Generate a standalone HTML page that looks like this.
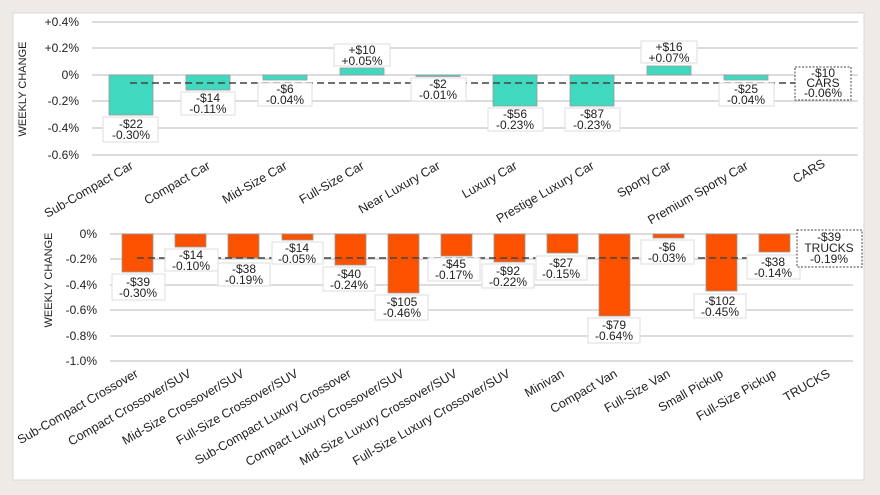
<!DOCTYPE html>
<html><head><meta charset="utf-8"><style>
html,body{margin:0;padding:0;background:#eeebe6;}
svg{display:block;font-family:"Liberation Sans",Arial,sans-serif;}
</style></head><body>
<svg width="880" height="495" viewBox="0 0 880 495" xmlns="http://www.w3.org/2000/svg">
<rect x="0" y="0" width="880" height="495" fill="#eeebe6"/>
<rect x="13" y="13" width="851" height="467" fill="#fff" stroke="#d8d8d8"/>
<!-- TOP CHART -->
<g stroke="#c8c8c8" stroke-width="1.2">
<line x1="92" y1="22" x2="858" y2="22"/><line x1="92" y1="48" x2="858" y2="48"/>
<line x1="92" y1="75" x2="858" y2="75"/><line x1="92" y1="101" x2="858" y2="101"/>
<line x1="92" y1="128" x2="858" y2="128"/><line x1="92" y1="155" x2="858" y2="155"/>
</g>
<g font-size="12" fill="#222" text-anchor="end">
<text x="79" y="26">+0.4%</text><text x="79" y="52">+0.2%</text><text x="79" y="79">0%</text>
<text x="79" y="105">-0.2%</text><text x="79" y="132">-0.4%</text><text x="79" y="159">-0.6%</text>
</g>
<text transform="translate(26,89) rotate(-90)" font-size="11" fill="#222" text-anchor="middle">WEEKLY CHANGE</text>
<g fill="#40d9c0" stroke="#999" stroke-width="0.8">
<rect x="109" y="75" width="44" height="40"/>
<rect x="186" y="75" width="44" height="15"/>
<rect x="263" y="75" width="44" height="5"/>
<rect x="340" y="68" width="44" height="7"/>
<rect x="416" y="75" width="44" height="1.5"/>
<rect x="493" y="75" width="44" height="31"/>
<rect x="570" y="75" width="44" height="31"/>
<rect x="647" y="66" width="44" height="9"/>
<rect x="724" y="75" width="44" height="5"/>
</g>
<line x1="130" y1="83" x2="800" y2="83" stroke="#444" stroke-width="1.5" stroke-dasharray="7,4"/>
<g font-size="12" fill="#222" text-anchor="middle">
<rect x="103" y="117" width="55" height="25" fill="#fff" stroke="#ddd"/><text x="131" y="128">-$22</text><text x="131" y="139">-0.30%</text>
<rect x="181" y="92" width="54" height="23" fill="#fff" stroke="#ddd"/><text x="208" y="102">-$14</text><text x="208" y="113">-0.11%</text>
<rect x="258" y="83" width="54" height="23" fill="#fff" stroke="#ddd"/><text x="285" y="93">-$6</text><text x="285" y="104">-0.04%</text>
<rect x="334" y="44" width="56" height="22" fill="#fff" stroke="#ddd"/><text x="362" y="54">+$10</text><text x="362" y="65">+0.05%</text>
<rect x="411" y="78" width="55" height="23" fill="#fff" stroke="#ddd"/><text x="438" y="88">-$2</text><text x="438" y="99">-0.01%</text>
<rect x="488" y="108" width="55" height="23" fill="#fff" stroke="#ddd"/><text x="515" y="118">-$56</text><text x="515" y="129">-0.23%</text>
<rect x="565" y="108" width="55" height="23" fill="#fff" stroke="#ddd"/><text x="592" y="118">-$87</text><text x="592" y="129">-0.23%</text>
<rect x="641" y="41" width="56" height="22" fill="#fff" stroke="#ddd"/><text x="669" y="51">+$16</text><text x="669" y="62">+0.07%</text>
<rect x="719" y="83" width="55" height="23" fill="#fff" stroke="#ddd"/><text x="746" y="93">-$25</text><text x="746" y="104">-0.04%</text>
<rect x="795" y="67" width="56" height="33" fill="#fff" stroke="#444" stroke-dasharray="2,1.5"/><text x="823" y="77">-$10</text><text x="823" y="87">CARS</text><text x="823" y="97">-0.06%</text>
</g>
<g font-size="12.5" fill="#222" text-anchor="end">
<text transform="translate(134,168) rotate(-30)">Sub-Compact Car</text>
<text transform="translate(211,168) rotate(-30)">Compact Car</text>
<text transform="translate(288,168) rotate(-30)">Mid-Size Car</text>
<text transform="translate(365,168) rotate(-30)">Full-Size Car</text>
<text transform="translate(441,168) rotate(-30)">Near Luxury Car</text>
<text transform="translate(518,168) rotate(-30)">Luxury Car</text>
<text transform="translate(595,168) rotate(-30)">Prestige Luxury Car</text>
<text transform="translate(672,168) rotate(-30)">Sporty Car</text>
<text transform="translate(749,168) rotate(-30)">Premium Sporty Car</text>
<text transform="translate(826,166) rotate(-30)">CARS</text>
</g>
<!-- BOTTOM CHART -->
<g stroke="#c8c8c8" stroke-width="1.2">
<line x1="110" y1="234" x2="853" y2="234"/><line x1="110" y1="259" x2="853" y2="259"/>
<line x1="110" y1="285" x2="853" y2="285"/><line x1="110" y1="310" x2="853" y2="310"/>
<line x1="110" y1="336" x2="853" y2="336"/><line x1="110" y1="361" x2="853" y2="361"/>
</g>
<g font-size="12" fill="#222" text-anchor="end">
<text x="97" y="238">0%</text><text x="97" y="263">-0.2%</text><text x="97" y="289">-0.4%</text>
<text x="97" y="314">-0.6%</text><text x="97" y="340">-0.8%</text><text x="97" y="365">-1.0%</text>
</g>
<text transform="translate(52,280) rotate(-90)" font-size="11" fill="#222" text-anchor="middle">WEEKLY CHANGE</text>
<g fill="#fc5200" stroke="#999" stroke-width="0.8">
<rect x="122" y="234" width="31" height="38"/>
<rect x="175" y="234" width="31" height="13"/>
<rect x="228" y="234" width="31" height="24"/>
<rect x="282" y="234" width="31" height="6"/>
<rect x="335" y="234" width="31" height="31"/>
<rect x="388" y="234" width="31" height="59"/>
<rect x="441" y="234" width="31" height="22"/>
<rect x="494" y="234" width="31" height="28"/>
<rect x="547" y="234" width="31" height="19"/>
<rect x="599" y="234" width="31" height="82"/>
<rect x="653" y="234" width="31" height="4"/>
<rect x="706" y="234" width="31" height="57"/>
<rect x="759" y="234" width="31" height="18"/>
</g>
<line x1="137" y1="258" x2="800" y2="258" stroke="#444" stroke-width="1.5" stroke-dasharray="7,4"/>
<g font-size="12" fill="#222" text-anchor="middle">
<rect x="112" y="274" width="53" height="26" fill="#fff" stroke="#ddd"/><text x="138" y="286">-$39</text><text x="138" y="297">-0.30%</text>
<rect x="165" y="249" width="53" height="22" fill="#fff" stroke="#ddd"/><text x="191" y="259">-$14</text><text x="191" y="270">-0.10%</text>
<rect x="218" y="263" width="52" height="23" fill="#fff" stroke="#ddd"/><text x="244" y="273">-$38</text><text x="244" y="284">-0.19%</text>
<rect x="272" y="242" width="51" height="22" fill="#fff" stroke="#ddd"/><text x="297" y="252">-$14</text><text x="297" y="263">-0.05%</text>
<rect x="323" y="267" width="52" height="24" fill="#fff" stroke="#ddd"/><text x="349" y="278">-$40</text><text x="349" y="289">-0.24%</text>
<rect x="375" y="295" width="53" height="25" fill="#fff" stroke="#ddd"/><text x="402" y="306">-$105</text><text x="402" y="317">-0.46%</text>
<rect x="428" y="258" width="52" height="23" fill="#fff" stroke="#ddd"/><text x="454" y="268">-$45</text><text x="454" y="279">-0.17%</text>
<rect x="482" y="264" width="52" height="24" fill="#fff" stroke="#ddd"/><text x="508" y="275">-$92</text><text x="508" y="286">-0.22%</text>
<rect x="536" y="256" width="51" height="24" fill="#fff" stroke="#ddd"/><text x="561" y="267">-$27</text><text x="561" y="278">-0.15%</text>
<rect x="588" y="318" width="52" height="25" fill="#fff" stroke="#ddd"/><text x="614" y="329">-$79</text><text x="614" y="340">-0.64%</text>
<rect x="641" y="240" width="53" height="24" fill="#fff" stroke="#ddd"/><text x="667" y="251">-$6</text><text x="667" y="262">-0.03%</text>
<rect x="694" y="294" width="52" height="24" fill="#fff" stroke="#ddd"/><text x="720" y="305">-$102</text><text x="720" y="316">-0.45%</text>
<rect x="747" y="255" width="53" height="24" fill="#fff" stroke="#ddd"/><text x="773" y="266">-$38</text><text x="773" y="277">-0.14%</text>
<rect x="797" y="230" width="65" height="37" fill="#fff" stroke="#444" stroke-dasharray="2,1.5"/><text x="829" y="241">-$39</text><text x="829" y="252">TRUCKS</text><text x="829" y="263">-0.19%</text>
</g>
<g font-size="12.5" fill="#222" text-anchor="end">
<text transform="translate(139,376) rotate(-30)">Sub-Compact Crossover</text>
<text transform="translate(192,376) rotate(-30)">Compact Crossover/SUV</text>
<text transform="translate(245,376) rotate(-30)">Mid-Size Crossover/SUV</text>
<text transform="translate(299,376) rotate(-30)">Full-Size Crossover/SUV</text>
<text transform="translate(352,376) rotate(-30)">Sub-Compact Luxury Crossover</text>
<text transform="translate(405,376) rotate(-30)">Compact Luxury Crossover/SUV</text>
<text transform="translate(458,376) rotate(-30)">Mid-Size Luxury Crossover/SUV</text>
<text transform="translate(511,376) rotate(-30)">Full-Size Luxury Crossover/SUV</text>
<text transform="translate(565,376) rotate(-30)">Minivan</text>
<text transform="translate(618,376) rotate(-30)">Compact Van</text>
<text transform="translate(671,376) rotate(-30)">Full-Size Van</text>
<text transform="translate(724,376) rotate(-30)">Small Pickup</text>
<text transform="translate(777,376) rotate(-30)">Full-Size Pickup</text>
<text transform="translate(831,376) rotate(-30)">TRUCKS</text>
</g>
</svg>
</body></html>
